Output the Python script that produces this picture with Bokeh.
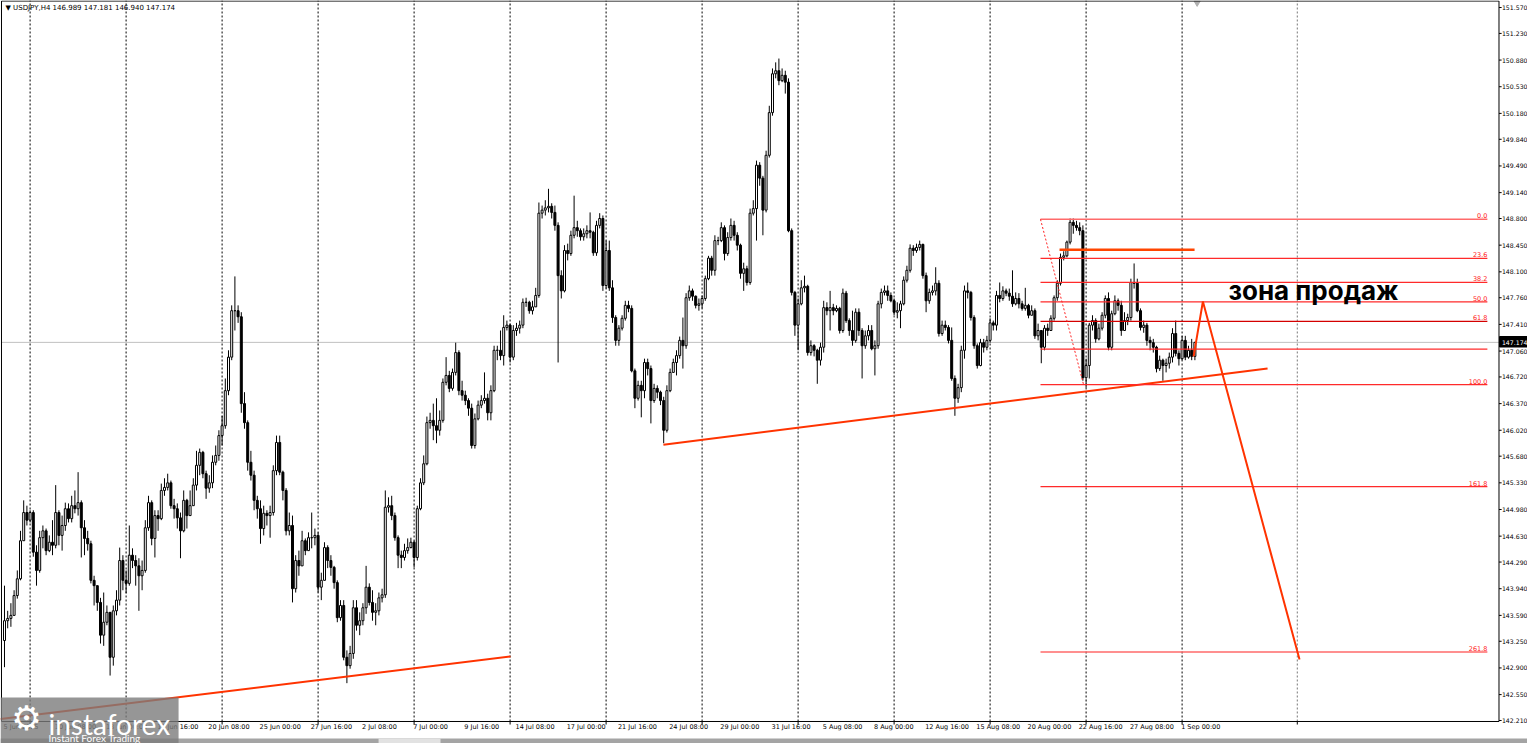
from bokeh.plotting import figure
from bokeh.models import Range1d, ColumnDataSource
from bokeh.core.properties import value
from bokeh.embed import file_html
from bokeh.resources import INLINE

# ---------------- data ----------------
symbol_title = "\u25bc USDJPY,H4  146.989 147.181 146.940 147.174"
first_open = 143.26
closes = [
    143.52, 143.55, 143.59, 143.85, 144.07, 144.57, 144.94, 144.84, 144.94, 144.42,
    144.18, 144.61, 144.70, 144.44, 144.55, 144.51, 144.94, 144.64, 144.77, 144.99,
    144.86, 145.03, 144.99, 145.07, 144.74, 144.60, 144.53, 144.05, 143.98, 143.76,
    143.33, 143.50, 143.63, 143.04, 143.65, 143.79, 144.31, 144.05, 144.01, 144.38,
    144.31, 144.24, 144.11, 144.18, 144.74, 145.07, 144.60, 144.90, 144.86, 145.23,
    145.27, 145.33, 145.03, 144.99, 144.87, 144.70, 145.10, 144.90, 145.03, 145.30,
    145.56, 145.73, 145.45, 145.26, 145.33, 145.60, 145.69, 145.95, 146.08, 146.54,
    146.98, 147.59, 147.59, 147.51, 146.37, 146.12, 145.60, 145.43, 145.10, 144.99,
    144.73, 144.93, 144.90, 144.94, 145.49, 145.86, 145.47, 145.23, 144.70, 144.77,
    143.94, 144.31, 144.24,
    144.57, 144.44, 144.61, 144.61, 144.64, 143.96, 144.05, 144.48, 144.31, 144.22,
    144.02, 143.56, 143.72, 143.04, 142.93, 143.09, 143.69, 143.46, 143.52, 143.69,
    143.96, 143.76, 143.63, 143.65, 143.82, 143.86, 145.01, 145.03, 144.90, 144.61,
    144.38, 144.35, 144.44, 144.48, 144.55, 144.35, 144.99, 145.33, 145.58, 146.12,
    146.15, 146.08, 146.02, 146.15, 146.65, 146.74, 146.57, 146.78, 147.04, 146.54,
    146.48, 146.41, 146.31, 145.82, 146.17, 146.35, 146.41, 146.44, 146.25, 146.54,
    147.07, 147.07, 147.00, 147.37, 147.40, 146.98, 147.33, 147.36, 147.40, 147.70,
    147.70, 147.59, 147.64, 147.79, 148.87, 148.91, 148.94, 148.96, 148.88, 148.71,
    148.05, 147.85, 148.38, 148.34, 148.58, 148.68, 148.64, 148.56, 148.60, 148.64,
    148.62, 148.35, 148.71, 148.80, 147.92, 148.38, 147.89,
    147.50, 147.20, 147.36, 147.49, 147.66, 147.62, 146.80, 146.44, 146.61, 146.54,
    146.91, 146.83, 146.41, 146.57, 146.52, 146.41, 146.02, 146.54, 146.78, 146.91,
    147.00, 147.20, 147.13, 147.76, 147.85, 147.78, 147.66, 147.68, 147.75, 148.01,
    148.28, 148.12, 148.51, 148.51, 148.68, 148.34, 148.55, 148.71, 148.58, 148.45,
    148.08, 148.14, 147.96, 148.87, 148.93, 149.50, 149.33, 148.91, 149.63, 150.19,
    150.70, 150.74, 150.61, 150.68, 150.59, 148.64, 147.83, 147.40, 147.68, 147.89,
    147.91, 147.04, 147.13, 147.07, 146.94, 147.11, 147.63, 147.59, 147.63, 147.59,
    147.62, 147.33, 147.82, 147.46, 147.33, 147.20, 147.57, 147.33, 147.13, 147.26,
    147.33, 147.09, 147.13, 147.68, 147.83, 147.85, 147.79, 147.72, 147.57, 147.59,
    147.68, 147.99, 148.12, 148.41, 148.38,
    148.42, 148.46, 148.05, 147.72, 147.83, 147.85, 147.95, 147.29, 147.40, 147.37,
    147.20, 146.70, 146.44, 146.58, 147.07, 147.85, 147.83, 147.50, 147.13, 146.87,
    147.17, 147.11, 147.20, 147.43, 147.40, 147.79, 147.75, 147.85, 147.82, 147.78,
    147.68, 147.75, 147.68, 147.62, 147.66, 147.53, 147.59, 147.26, 147.33, 147.11,
    147.36, 147.33, 147.49, 147.76, 147.95, 148.29, 148.31, 148.49, 148.75, 148.71,
    148.68, 148.64, 146.71, 146.87, 147.40, 147.46, 147.22, 147.36, 147.53, 147.75,
    147.11, 147.55, 147.72, 147.66, 147.33, 147.46, 147.50, 147.96, 147.95, 147.59,
    147.37, 147.40, 147.20, 147.17, 147.11, 146.83, 146.94, 146.87, 146.90, 146.98,
    147.29, 147.03, 146.96, 147.20, 146.98, 147.07, 146.99, 147.174,
]
highs = [
    143.98, 143.65, 143.75, 143.92, 144.18, 144.70, 145.10, 145.03, 144.97, 144.97,
    144.51, 144.70, 144.77, 144.73, 144.64, 144.84, 145.30, 144.97, 144.90, 145.07,
    145.06, 145.16, 145.23, 145.47, 145.10, 144.84, 144.70, 144.57, 144.11, 143.98,
    143.82, 143.89, 143.72, 143.52, 143.72, 143.92, 144.48, 144.38, 144.18, 144.77,
    144.47, 144.38, 144.34, 144.31, 144.84, 145.16, 145.10, 144.97, 144.97, 145.32,
    145.39, 145.45, 145.36, 145.12, 145.06, 144.94, 145.23, 145.12, 145.23, 145.39,
    145.75, 145.78, 145.75, 145.49, 145.43, 145.69, 145.82, 146.02, 146.21, 146.70,
    147.07, 147.66, 148.04, 147.66, 147.57, 146.52, 146.15, 145.75, 145.49, 145.16,
    145.10, 145.03, 144.97, 145.03, 145.56, 145.95, 145.95, 145.49, 145.26, 144.94,
    144.90, 144.38, 144.44,
    144.70, 144.60, 144.68, 144.94, 144.73, 144.68, 144.15, 144.55, 144.51, 144.38,
    144.24, 144.05, 143.79, 143.79, 143.13, 143.19, 143.79, 143.79, 143.63, 143.75,
    144.24, 144.01, 143.92, 143.75, 143.89, 143.94, 145.23, 145.14, 145.16, 144.94,
    144.64, 144.44, 144.53, 144.60, 144.61, 144.57, 145.03, 145.39, 145.69, 146.20,
    146.25, 146.37, 146.44, 146.28, 146.70, 146.98, 146.80, 146.83, 147.17, 147.07,
    146.67, 146.54, 146.44, 146.37, 146.24, 146.41, 146.48, 146.78, 146.50, 146.61,
    147.13, 147.13, 147.33, 147.53, 147.46, 147.42, 147.40, 147.43, 147.46, 147.75,
    147.76, 147.72, 147.72, 147.89, 149.01, 148.97, 149.04, 149.19, 149.00, 148.97,
    148.75, 148.12, 148.45, 148.47, 148.64, 149.10, 148.77, 148.67, 148.67, 148.71,
    148.88, 148.64, 148.77, 148.87, 148.84, 148.51, 148.51,
    147.99, 147.53, 147.40, 147.53, 147.72, 147.72, 147.66, 146.83, 146.67, 146.67,
    146.96, 146.96, 146.87, 146.63, 146.61, 146.54, 146.46, 146.61, 146.83, 146.96,
    147.07, 147.25, 147.50, 147.82, 147.92, 147.88, 147.79, 147.75, 147.79, 148.05,
    148.31, 148.31, 148.58, 148.56, 148.75, 148.71, 148.62, 148.80, 148.77, 148.62,
    148.47, 148.22, 148.18, 148.93, 149.04, 149.56, 149.54, 149.36, 149.69, 150.28,
    150.77, 150.85, 150.90, 150.77, 150.74, 150.64, 148.67, 147.85, 147.75, 147.99,
    148.05, 147.93, 147.20, 147.15, 147.09, 147.17, 147.72, 147.70, 147.85, 147.68,
    147.66, 147.64, 147.88, 147.85, 147.49, 147.59, 147.62, 147.62, 147.36, 147.33,
    147.40, 147.40, 147.20, 147.72, 147.88, 147.92, 147.92, 147.83, 147.75, 147.70,
    147.72, 148.04, 148.18, 148.46, 148.45,
    148.47, 148.51, 148.47, 148.09, 147.88, 147.92, 148.16, 147.99, 147.46, 147.46,
    147.40, 147.37, 146.74, 146.63, 147.13, 147.92, 147.96, 147.85, 147.53, 147.16,
    147.22, 147.22, 147.26, 147.49, 147.46, 147.85, 147.96, 147.91, 147.88, 147.88,
    148.12, 147.83, 147.82, 147.72, 147.89, 147.68, 147.66, 147.62, 147.42, 147.29,
    147.40, 147.42, 147.53, 147.79, 147.99, 148.34, 148.37, 148.51, 148.80, 148.80,
    148.77, 148.75, 148.71, 146.96, 147.43, 147.53, 147.49, 147.42, 147.57, 147.79,
    147.83, 147.59, 147.79, 147.75, 147.72, 147.57, 147.55, 148.01, 148.21, 148.01,
    147.62, 147.46, 147.43, 147.25, 147.22, 147.13, 147.00, 146.96, 146.96, 147.04,
    147.36, 147.46, 147.07, 147.26, 147.26, 147.13, 147.22, 147.181,
]
lows = [
    142.91, 143.42, 143.44, 143.65, 143.81, 144.05, 144.57, 144.77, 144.81, 144.36,
    143.98, 144.15, 144.47, 144.38, 144.42, 144.38, 144.47, 144.51, 144.44, 144.70,
    144.81, 144.81, 144.93, 144.90, 144.35, 144.38, 144.44, 144.01, 143.72, 143.65,
    143.22, 143.19, 143.46, 142.80, 142.93, 143.59, 143.72, 143.92, 143.88, 143.98,
    144.21, 143.98, 143.65, 143.92, 144.15, 144.70, 144.51, 144.35, 144.70, 144.84,
    145.16, 145.23, 144.99, 144.86, 144.73, 144.34, 144.68, 144.73, 144.90, 145.03,
    145.23, 145.43, 145.39, 145.12, 145.20, 145.26, 145.56, 145.62, 145.82, 146.04,
    146.48, 146.94, 147.33, 147.43, 146.25, 146.04, 145.49, 145.36, 144.97, 144.86,
    144.53, 144.64, 144.77, 144.61, 144.90, 145.43, 145.43, 145.10, 144.64, 144.64,
    143.76, 143.89, 144.11,
    144.51, 144.38, 144.51, 144.47, 144.51, 143.89, 143.79, 144.05, 144.21, 144.11,
    143.94, 143.50, 143.52, 143.00, 142.70, 142.89, 143.02, 143.39, 143.33, 143.46,
    143.61, 143.72, 143.52, 143.46, 143.59, 143.76, 143.82, 144.94, 144.84, 144.57,
    144.21, 144.21, 144.31, 144.40, 144.47, 144.22, 144.31, 144.97, 145.30, 145.56,
    146.04, 145.89, 145.85, 145.95, 146.12, 146.61, 146.52, 146.54, 146.74, 146.48,
    146.41, 146.35, 146.21, 145.78, 145.78, 146.15, 146.31, 146.37, 146.15, 146.15,
    146.52, 146.94, 146.94, 146.87, 147.33, 146.91, 146.94, 147.26, 147.29, 147.36,
    147.64, 147.55, 147.54, 147.66, 147.76, 148.80, 148.84, 148.88, 148.80, 148.64,
    146.91, 147.75, 147.83, 148.25, 148.31, 148.54, 148.56, 148.51, 148.51, 148.54,
    148.54, 148.31, 148.31, 148.67, 147.85, 147.88, 147.85,
    147.43, 147.13, 147.13, 147.33, 147.46, 147.57, 146.78, 146.31, 146.41, 146.19,
    146.44, 146.74, 146.11, 146.38, 146.44, 146.35, 145.85, 145.99, 146.52, 146.78,
    146.74, 146.96, 146.83, 147.09, 147.72, 147.72, 147.62, 147.59, 147.62, 147.72,
    147.99, 148.05, 148.05, 148.45, 148.49, 148.25, 148.31, 148.51, 148.51, 148.38,
    148.01, 147.85, 147.92, 147.93, 148.84, 148.51, 149.23, 148.58, 148.88, 149.60,
    150.15, 150.64, 150.55, 150.59, 150.44, 148.62, 147.79, 147.26, 147.07, 147.66,
    147.83, 147.00, 147.00, 146.99, 146.63, 146.87, 147.04, 147.53, 147.33, 147.53,
    147.57, 147.29, 147.30, 147.43, 147.26, 147.13, 147.17, 147.26, 146.70, 147.09,
    147.20, 147.07, 146.74, 147.09, 147.62, 147.79, 147.72, 147.70, 147.53, 147.49,
    147.36, 147.66, 147.96, 148.09, 148.31,
    148.35, 148.38, 148.01, 147.57, 147.68, 147.79, 147.79, 147.25, 147.26, 147.33,
    147.16, 146.67, 146.21, 146.38, 146.52, 146.96, 147.75, 147.46, 147.09, 146.83,
    146.86, 147.04, 147.07, 147.17, 147.33, 147.33, 147.70, 147.72, 147.78, 147.72,
    147.64, 147.66, 147.62, 147.59, 147.59, 147.49, 147.57, 147.22, 147.20, 146.90,
    147.07, 147.26, 147.36, 147.46, 147.72, 147.92, 148.25, 148.29, 148.46, 148.60,
    148.64, 148.58, 146.67, 146.58, 146.70, 147.33, 147.17, 147.20, 147.33, 147.49,
    147.07, 147.07, 147.53, 147.59, 147.26, 147.33, 147.40, 147.46, 147.88, 147.57,
    147.33, 147.30, 147.13, 147.07, 147.04, 146.78, 146.80, 146.67, 146.78, 146.83,
    146.91, 146.99, 146.87, 146.94, 146.94, 146.96, 146.94, 146.940,
]

date_labels = ["5 Jun 2025", "10 Jun 08:00", "13 Jun 00:00", "17 Jun 16:00", "20 Jun 08:00",
               "25 Jun 00:00", "27 Jun 16:00", "2 Jul 08:00", "7 Jul 00:00", "9 Jul 16:00",
               "14 Jul 08:00", "17 Jul 00:00", "21 Jul 16:00", "24 Jul 08:00", "29 Jul 00:00",
               "31 Jul 16:00", "5 Aug 08:00", "8 Aug 00:00", "12 Aug 16:00", "15 Aug 08:00",
               "20 Aug 00:00", "22 Aug 16:00", "27 Aug 08:00", "1 Sep 00:00"]
date_label_bars = [0, 16, 32, 48, 64, 80, 96, 112, 128, 144, 160, 176, 192, 208, 224,
                   240, 256, 272, 288, 304, 320, 336, 352, 368]
week_grid_bars = [8, 38, 68, 98, 128, 158, 188, 218, 248, 278, 308, 338, 368]
future_grid_bar = 404
price_ticks = [151.57, 151.23, 150.88, 150.53, 150.18, 149.84, 149.49, 149.14, 148.80,
               148.45, 148.10, 147.76, 147.41, 147.06, 146.72, 146.37, 146.02, 145.68,
               145.33, 144.98, 144.63, 144.29, 143.94, 143.59, 143.25, 142.90, 142.55, 142.21]
last_price = 147.174

trend1_bars = [-1.25, 158.1]
trend1_prices = [142.23, 143.05]
trend2_bars = [205.9, 394.7]
trend2_prices = [145.83, 146.83]
fib_bars = [323.75, 463.4]
fib_high = 148.79
fib_low = 146.62
fib_levels = [0.0, 23.6, 38.2, 50.0, 61.8, 78.6, 100.0, 161.8, 261.8]
fib_level_labels = ["0.0", "23.6", "38.2", "50.0", "61.8", "", "100.0", "161.8", "261.8"]
fib_diag_bars = [323.75, 337.2]
resist_bars = [329.7, 371.9]
resist_price = 148.39
path_bars = [371.6, 374.5, 404.7]
path_prices = [146.99, 147.71, 143.01]
zone_text = "зона продаж"
zone_bar = 382.5
zone_price = 147.855

# ---------------- layout constants (chart window geometry) ----------------
W, H = 1527, 743
X0, X1 = -1.25, 475.94          # whole canvas in bar units
Y0, Y1 = 141.908, 151.662       # whole canvas in price units
PL, PR = -0.94, 467.03          # plot area left/right edge (bars)
PB, PT = 142.197, 151.655       # plot area bottom/top edge (price)
TICK_R = 467.85                 # end of price-scale ticks
LAB_R = 467.95                  # price-scale label x
TICK_B = 142.157                # end of time-scale ticks
LAB_B = 142.171                 # time-scale label top

p = figure(width=W, height=H, x_range=Range1d(X0, X1), y_range=Range1d(Y0, Y1),
           output_backend="svg", toolbar_location=None,
           x_axis_location=None, y_axis_location=None, min_border=0,
           background_fill_color="white", border_fill_color="white")
p.grid.visible = False
p.outline_line_color = None

# weekly dotted grid
p.segment(x0=week_grid_bars, x1=week_grid_bars, y0=[PB] * len(week_grid_bars),
          y1=[Y1] * len(week_grid_bars), line_color="black", line_dash="2 2", line_width=1)
p.segment(x0=[future_grid_bar], x1=[future_grid_bar], y0=[PB], y1=[Y1],
          line_color="#777777", line_dash="2 2", line_width=1)
# bid line
p.segment(x0=[PL], x1=[PR], y0=[last_price], y1=[last_price], line_color="#c0c0c0", line_width=1)

# candles
n = min(len(closes), len(highs), len(lows))
cl = closes[:n]
op = [first_open] + cl[:-1]
hi = [max(h, o, c) for h, o, c in zip(highs[:n], op, cl)]
lo = [min(l, o, c) for l, o, c in zip(lows[:n], op, cl)]
src = ColumnDataSource(dict(
    x=list(range(n)), hi=hi, lo=lo,
    bt=[max(o, c) for o, c in zip(op, cl)],
    bb=[min(o, c) for o, c in zip(op, cl)],
    fill=["white" if c >= o else "black" for o, c in zip(op, cl)],
))
p.segment(x0="x", y0="lo", x1="x", y1="hi", source=src, line_color="black", line_width=1)
p.vbar(x="x", width=0.62, top="bt", bottom="bb", fill_color="fill", line_color="black",
       line_width=1, source=src)

# trend lines
RED = "#ff3300"
p.line(trend1_bars, trend1_prices, line_color=RED, line_width=2)
p.line(trend2_bars, trend2_prices, line_color=RED, line_width=2)

# fibonacci
fib_prices = [fib_high - lv / 100.0 * (fib_high - fib_low) for lv in fib_levels]
fib_colors = ["#ff6a6a" if lv in (0.0, 261.8) else ("#d40000" if lv == 61.8 else "#ff2a2a")
              for lv in fib_levels]
p.segment(x0=[fib_bars[0]] * len(fib_prices), x1=[fib_bars[1]] * len(fib_prices),
          y0=fib_prices, y1=fib_prices, line_color=fib_colors, line_width=1.3)
p.text(x=[fib_bars[1]] * len(fib_prices), y=fib_prices, text=fib_level_labels,
       text_align="right", text_baseline="bottom", y_offset=-1,
       text_font=value("DejaVu Sans"), text_font_size="6.5px", text_color="#ff2020")
p.line(fib_diag_bars, [fib_high, fib_low], line_color="#ff2020", line_width=1, line_dash="2 2")

# horizontal resistance and projected path
p.line(resist_bars, [resist_price, resist_price], line_color="#ff4500", line_width=2.5)
p.line(path_bars, path_prices, line_color=RED, line_width=2)

# zone label
p.text(x=[zone_bar], y=[zone_price], text=[zone_text], text_font=value("Inter"),
       text_font_style="bold", text_font_size="26px", text_color="black",
       text_baseline="alphabetic", text_align="left")

# symbol title
p.text(x=[0.3], y=[151.557], text=[symbol_title], text_font=value("DejaVu Sans"),
       text_font_size="7px", text_color="black", text_baseline="middle")
# chart shift marker
p.scatter(x=[372.7], y=[151.63], marker="inverted_triangle", size=6,
          fill_color="#b0b0b0", line_color="#b0b0b0")

# plot area frame (time / price scales)
p.segment(x0=[PL, PL, PR, PL], x1=[PL, PR, PR, PR], y0=[PB, PT, PB, PB], y1=[PT, PT, PT, PB],
          line_color="black", line_width=1)
# price scale
p.segment(x0=[PR] * len(price_ticks), x1=[TICK_R] * len(price_ticks),
          y0=price_ticks, y1=price_ticks, line_color="black", line_width=1)
p.text(x=[LAB_R] * len(price_ticks), y=price_ticks, text=["%.3f" % t for t in price_ticks],
       text_font=value("DejaVu Sans"), text_font_size="6.2px", text_color="black",
       text_baseline="middle", text_align="left")
# time scale
tick_bars = week_grid_bars + [future_grid_bar]
p.segment(x0=tick_bars, x1=tick_bars, y0=[PB] * len(tick_bars), y1=[TICK_B] * len(tick_bars),
          line_color="black", line_width=1)
p.text(x=[b - 0.3 for b in date_label_bars], y=[LAB_B] * len(date_label_bars), text=date_labels,
       text_font=value("DejaVu Sans"), text_font_size="6.5px", text_color="black",
       text_baseline="top", text_align="left")

# current price marker on the price scale
p.quad(left=[467.2], right=[X1], top=[147.251], bottom=[147.113],
       fill_color="black", line_color="black")
p.text(x=[LAB_R], y=[last_price], text=["%.3f" % last_price], text_font=value("DejaVu Sans"),
       text_font_size="6.2px", text_color="white", text_baseline="middle", text_align="left")

# bottom scroll strip
p.quad(left=[X0], right=[X1], top=[141.974], bottom=[Y0], fill_color="#a4a4a4", line_color=None)
p.quad(left=[116.9], right=[136.25], top=[141.974], bottom=[Y0], fill_color="#e2e2e2",
       line_color=None)

# watermark logo
p.quad(left=[X0], right=[54.4], top=[142.512], bottom=[Y0], fill_color="#7c7c7c",
       fill_alpha=0.8, line_color=None)
p.text(x=[6.9], y=[142.249], text=["\u2699"], text_font=value("DejaVu Sans"),
       text_font_size="34px", text_color="white", text_align="center", text_baseline="middle")
p.text(x=[13.75], y=[142.17], text=["instaforex"], text_font=value("Lato"),
       text_font_size="28px", text_color="white", text_baseline="alphabetic", text_align="left")
p.text(x=[13.75], y=[141.985], text=["Instant Forex Trading"], text_font=value("Lato"),
       text_font_size="10px", text_color="white", text_baseline="alphabetic", text_align="left")

open("out.html", "w").write(file_html(p, INLINE))
